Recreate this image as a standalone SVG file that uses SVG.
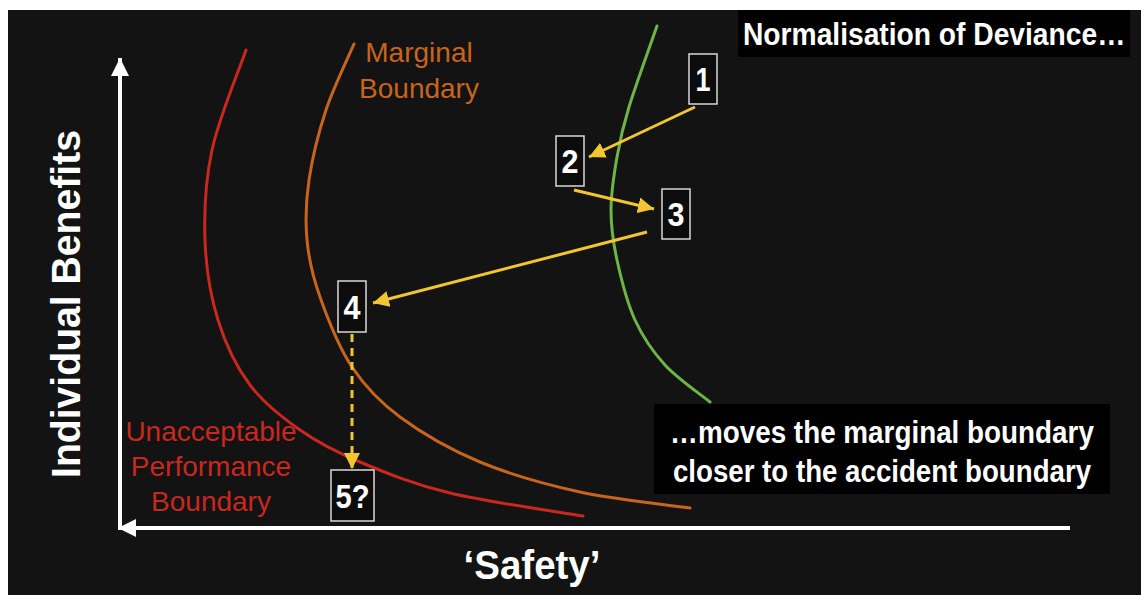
<svg xmlns="http://www.w3.org/2000/svg" width="1141" height="595" viewBox="0 0 1141 595">
<defs>
<style>
.bold{font-family:"Liberation Sans",Arial,sans-serif;font-weight:bold;fill:#fff}
.thin{font-family:"Liberation Sans",Arial,sans-serif;font-weight:normal;font-size:28px;text-anchor:middle}
.curve{fill:none;stroke-width:3;stroke-linecap:round}
.arr{stroke:#f2c531;stroke-width:3;fill:none}
.box{fill:#0c0c0c;stroke:#d8d8d8;stroke-width:1.5}
.num{font-family:"Liberation Sans",Arial,sans-serif;font-weight:bold;fill:#fff;font-size:34px;text-anchor:middle}
</style>
<marker id="ah" markerUnits="userSpaceOnUse" markerWidth="18" markerHeight="16" refX="16" refY="8" orient="auto">
<path d="M0,0 L16,8 L0,16 Z" fill="#f2c531"/>
</marker>
<marker id="wh" markerUnits="userSpaceOnUse" markerWidth="20" markerHeight="20" refX="18" refY="10" orient="auto">
<path d="M0,1 L18,10 L0,19 Z" fill="#fff"/>
</marker>
</defs>
<rect x="0" y="0" width="1141" height="595" fill="#fff"/>
<rect x="8" y="10" width="1133" height="585" fill="#131313"/>

<g id="curves">
<path id="red-curve" class="curve" stroke="#c8281e" d="M246,50 C240.3,66.7 218.8,118.3 212,150 C205.2,181.7 204,211.7 205,240 C206,268.3 210.5,295.8 218,320 C225.5,344.2 236.3,366.7 250,385 C263.7,403.3 281.7,417.2 300,430 C318.3,442.8 335,451.5 360,462 C385,472.5 412.8,484 450,493 C487.2,502 560.8,512.2 583,516"/>
<path id="orange-curve" class="curve" stroke="#c8641d" d="M354,44 C349.3,55 333.5,87.3 326,110 C318.5,132.7 312.2,158.3 309,180 C305.8,201.7 305.2,220.5 307,240 C308.8,259.5 312.5,275.8 320,297 C327.5,318.2 338.7,347 352,367 C365.3,387 378.7,401.2 400,417 C421.3,432.8 450,449.5 480,462 C510,474.5 545,484.3 580,492 C615,499.7 671.7,505.3 690,508"/>
<path id="green-curve" class="curve" stroke="#6db547" d="M657,26 C652.3,39.5 635.7,85.2 629,107 C622.3,128.8 620,139.8 617,157 C614,174.2 611,192.8 611,210 C611,227.2 613,241.7 617,260 C621,278.3 627,302.5 635,320 C643,337.5 652.5,351.3 665,365 C677.5,378.7 702.5,395.8 710,402"/>
</g>

<g id="axes">
<line x1="120" y1="528" x2="120" y2="58" stroke="#fff" stroke-width="4" marker-end="url(#wh)"/>
<line x1="1070" y1="528" x2="118" y2="528" stroke="#fff" stroke-width="4" marker-end="url(#wh)"/>
</g>

<g id="labels">
<text class="bold" font-size="40" transform="translate(80,304) rotate(-90)" text-anchor="middle" textLength="348" lengthAdjust="spacingAndGlyphs">Individual Benefits</text>
<text class="bold" font-size="40" x="532" y="579" text-anchor="middle" textLength="137" lengthAdjust="spacingAndGlyphs">‘Safety’</text>
<text class="thin" fill="#c8641d" x="419" y="62">Marginal</text>
<text class="thin" fill="#c8641d" x="419" y="98">Boundary</text>
<text class="thin" fill="#c8281e" x="211" y="441">Unacceptable</text>
<text class="thin" fill="#c8281e" x="211" y="476">Performance</text>
<text class="thin" fill="#c8281e" x="211" y="511">Boundary</text>
</g>

<g id="title">
<rect x="738" y="10" width="392" height="47" fill="#000"/>
<text class="bold" font-size="31" transform="translate(743,45) scale(0.91,1)" x="0" y="0">Normalisation of Deviance…</text>
</g>

<g id="note">
<rect x="654" y="404" width="456" height="90" fill="#000"/>
<text class="bold" font-size="32" transform="translate(882,443) scale(0.87,1)" x="0" y="0" text-anchor="middle">…moves the marginal boundary</text>
<text class="bold" font-size="32" transform="translate(882,482) scale(0.865,1)" x="0" y="0" text-anchor="middle">closer to the accident boundary</text>
</g>

<g id="connectors">
<line class="arr" x1="695" y1="107" x2="589" y2="157" marker-end="url(#ah)"/>
<line class="arr" x1="574" y1="190" x2="654" y2="209" marker-end="url(#ah)"/>
<line class="arr" x1="647" y1="232" x2="373" y2="303" marker-end="url(#ah)"/>
<line class="arr" x1="352" y1="334" x2="352" y2="469" stroke-dasharray="8,6" marker-end="url(#ah)"/>
</g>

<g id="node1"><rect class="box" x="689" y="54" width="28" height="50"/><text class="num" x="703" y="91" textLength="15" lengthAdjust="spacingAndGlyphs">1</text></g>
<g id="node2"><rect class="box" x="556" y="136" width="28" height="50"/><text class="num" x="570" y="173" textLength="17" lengthAdjust="spacingAndGlyphs">2</text></g>
<g id="node3"><rect class="box" x="662" y="189" width="28" height="50"/><text class="num" x="676" y="226" textLength="17" lengthAdjust="spacingAndGlyphs">3</text></g>
<g id="node4"><rect class="box" x="338" y="281" width="28" height="51"/><text class="num" x="352" y="319" textLength="17" lengthAdjust="spacingAndGlyphs">4</text></g>
<g id="node5"><rect class="box" x="331" y="470" width="43" height="51"/><text class="num" x="352.5" y="508" textLength="34" lengthAdjust="spacingAndGlyphs">5?</text></g>
</svg>
